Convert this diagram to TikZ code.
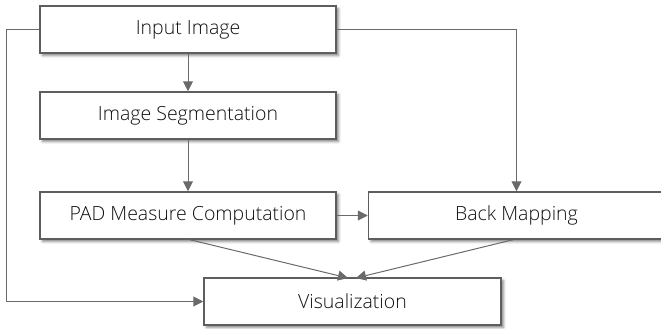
\documentclass[tikz,border=0pt]{standalone}
\usepackage{fontspec}
\setmainfont{Open Sans Light}
\usetikzlibrary{arrows.meta,shadows.blur}
\definecolor{boxline}{HTML}{5E5E5E}
\definecolor{conn}{HTML}{6A6A6A}
\definecolor{txt}{HTML}{101010}
\tikzset{
  stagebox/.style={draw=boxline, line width=1.5pt, fill=white, minimum width=296pt,
    minimum height=47pt, inner sep=0pt, text=txt,
    font=\fontsize{19.5}{22}\selectfont,
    blur shadow={shadow xshift=2.5pt, shadow yshift=-2.5pt, shadow blur radius=2.5pt, shadow opacity=50}},
  link/.style={draw=conn, line width=1pt, -{Triangle[width=10pt,length=10pt]}}
}
\begin{document}
\begin{tikzpicture}[x=1pt,y=-1pt]
\useasboundingbox (0,0) rectangle (661,329);
\clip (0,0) rectangle (661,329);
\node[stagebox] (in)   at (188,29.5)  {Input Image};
\node[stagebox] (seg)  at (188,115.5) {Image Segmentation};
\node[stagebox] (pad)  at (188,215.5) {PAD Measure Computation};
\node[stagebox] (back) at (516.5,215.5) {Back Mapping};
\node[stagebox, minimum width=297pt] (vis) at (352.5,301.5) {Visualization};
\coordinate (tipA) at (348,278);
\coordinate (tipB) at (356,278);
\draw[link] (in.south) -- (seg.north);
\draw[link] (seg.south) -- (pad.north);
\draw[link] (pad.east) -- (back.west);
\draw[link] (in.east) -| (back.north);
\draw[link] (in.west) -- ++(-33,0) |- (vis.west);
\draw[link] ([xshift=2pt]pad.south) -- (tipA);
\draw[link] ([xshift=-3.5pt]back.south) -- (tipB);
\end{tikzpicture}
\end{document}
